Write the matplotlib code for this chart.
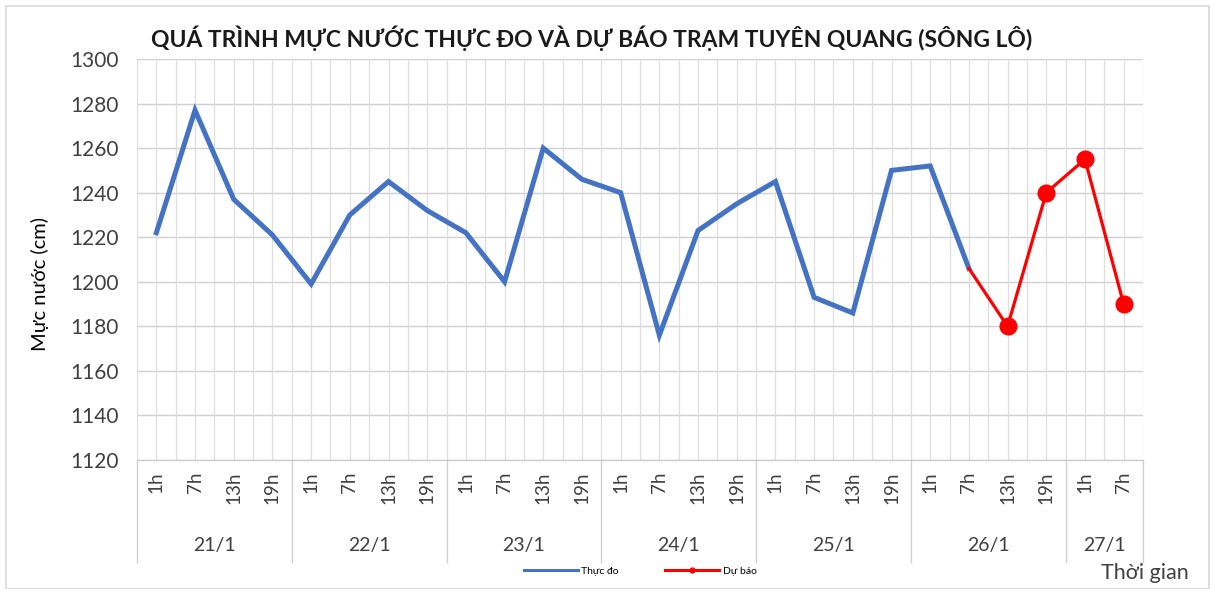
import matplotlib
matplotlib.use('Agg')
import matplotlib.pyplot as plt
from matplotlib.lines import Line2D
from matplotlib.patches import Rectangle
import matplotlib.transforms as mtransforms

# ---- data ----
days = ['21/1', '22/1', '23/1', '24/1', '25/1', '26/1', '27/1']
hours = ['1h', '7h', '13h', '19h']
hours_per_day = [4, 4, 4, 4, 4, 4, 2]
observed = [1222, 1277, 1237, 1221,
            1199, 1230, 1245, 1232,
            1222, 1200, 1260, 1246,
            1240, 1176, 1223, 1235,
            1245, 1193, 1186, 1250,
            1252, 1206]
forecast = [1206, 1180, 1240, 1255, 1190]   # from 26/1 7h to 27/1 7h
forecast_start = 21
yticks = [1120, 1140, 1160, 1180, 1200, 1220, 1240, 1260, 1280, 1300]

hour_labels = []
for n in hours_per_day:
    hour_labels += hours[:n]
n_cat = len(hour_labels)

FONT = ['Lato', 'DejaVu Sans']
plt.rcParams['font.family'] = FONT

fig = plt.figure(figsize=(12.15, 5.89), dpi=100)
W, H = 1215, 589
ax = fig.add_axes([137 / W, 1 - 460 / H, (1143 - 137) / W, (460 - 59) / H])

# grid
for v in yticks:
    ax.axhline(v, color='#d0d0d0', lw=1.0, zorder=0)
k = -0.5
while k <= n_cat - 0.5 + 1e-9:
    ax.axvline(k, color='#dedede', lw=0.9, zorder=0)
    k += 0.5

x_obs = list(range(len(observed)))
x_fc = list(range(forecast_start, forecast_start + len(forecast)))
ax.plot(x_obs, observed, color='#4472C4', lw=3.6, solid_joinstyle='miter', zorder=3)
ax.plot(x_fc, forecast, color='#FF0000', lw=2.3, marker='o', markersize=12,
        markevery=list(range(1, len(forecast))), zorder=4)

ax.set_xlim(-0.5, n_cat - 0.5)
ax.set_ylim(yticks[0], yticks[-1])
ax.set_yticks(yticks)
ax.set_yticklabels([str(v) for v in yticks], fontsize=15, color='#404040')
ax.set_xticks(range(n_cat))
ax.set_xticklabels(hour_labels, rotation=90, fontsize=13.5, color='#404040')
ax.tick_params(axis='both', length=0)
ax.tick_params(axis='y', pad=13)
ax.tick_params(axis='x', pad=8)
for s in ['top', 'right', 'left']:
    ax.spines[s].set_visible(False)
ax.spines['bottom'].set_color('#c8c8c8')

# day labels and separators
trans = mtransforms.blended_transform_factory(ax.transData, ax.transAxes)
pos = -0.5
for d, n in zip(days, hours_per_day):
    ax.add_line(Line2D([pos, pos], [0, -0.255], transform=trans, color='#d0d0d0',
                       lw=1.0, clip_on=False))
    ax.text(pos + n / 2, -0.212, d, transform=trans, ha='center', va='center',
            fontsize=14, color='#404040')
    pos += n
ax.add_line(Line2D([pos, pos], [0, -0.255], transform=trans, color='#d0d0d0',
                   lw=1.0, clip_on=False))

ax.set_ylabel('Mực nước (cm)', fontsize=14.5, color='#000000')
ax.yaxis.set_label_coords(-0.087, 0.44)

fig.text(592 / W, 1 - 38 / H,
         'QUÁ TRÌNH MỰC NƯỚC THỰC ĐO VÀ DỰ BÁO TRẠM TUYÊN QUANG (SÔNG LÔ)',
         ha='center', va='center', fontsize=16.5, fontweight='bold', color='#1a1a1a')
fig.text(1145 / W, 1 - 573 / H, 'Thời gian', ha='center', va='center',
         fontsize=15.5, color='#404040')

# legend
h1 = Line2D([], [], color='#4472C4', lw=2.2)
h2 = Line2D([], [], color='#FF0000', lw=2.2, marker='o', markersize=3.5)
fig.legend([h1, h2], ['Thực đo', 'Dự báo'], loc='center', ncol=2,
           bbox_to_anchor=(640 / W, 1 - 571 / H), frameon=False, fontsize=7.5,
           handlelength=5.2, handletextpad=0.3, columnspacing=4.5)

fig.add_artist(Rectangle((6 / W, 0.0), 1 - 12 / W, 1 - 6 / H, transform=fig.transFigure,
                         fill=False, edgecolor='#d9d9d9', lw=1.2))

fig.savefig('out.png', dpi=100)
